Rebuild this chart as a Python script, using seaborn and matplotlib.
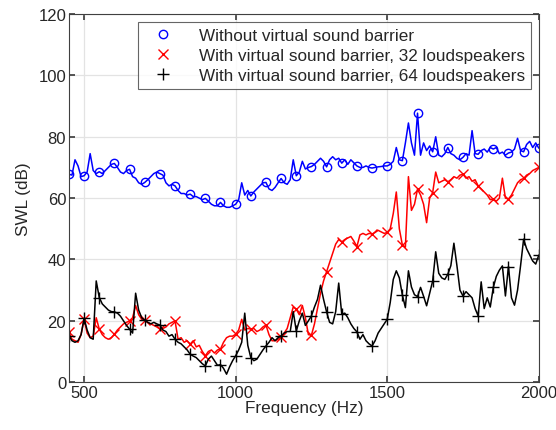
import numpy as np
import pandas as pd
import matplotlib
matplotlib.use("Agg")
import matplotlib.pyplot as plt
from matplotlib.lines import Line2D
import seaborn as sns

# frequency axis (Hz), 10 Hz steps; markers every 50 Hz
freq = np.arange(450, 2001, 10)

swl_without = [
    67.8, 67.5, 72.5, 70.5, 67.0, 67.3, 68.5, 74.5, 69.0, 68.0,
    68.6, 68.0, 69.0, 70.0, 71.0, 71.3, 70.0, 68.5, 68.0, 69.0,
    69.4, 67.0, 66.5, 65.0, 64.5, 65.1, 66.0, 67.0, 68.0, 68.5,
    68.0, 67.5, 65.0, 64.0, 64.5, 64.0, 62.5, 61.5, 61.5, 61.0,
    61.3, 60.5, 60.5, 60.0, 59.5, 59.9, 59.0, 58.0, 57.5, 57.5,
    58.6, 57.5, 57.0, 57.0, 57.5, 58.0, 59.5, 65.0, 61.0, 62.5,
    60.7, 62.0, 63.0, 64.0, 65.0, 65.1, 63.0, 62.5, 63.5, 65.0,
    66.4, 65.0, 64.5, 66.0, 72.5, 67.3, 68.5, 72.0, 69.5, 70.0,
    70.3, 71.0, 72.0, 73.0, 72.0, 70.2, 72.5, 73.5, 72.5, 73.0,
    71.4, 72.5, 71.0, 72.5, 71.5, 70.5, 70.0, 70.0, 70.5, 70.0,
    69.8, 70.0, 70.2, 70.3, 70.5, 70.5, 71.0, 72.0, 76.5, 72.5,
    72.2, 78.0, 84.5, 78.0, 74.0, 87.7, 74.0, 78.0, 75.5, 77.0,
    75.1, 80.0, 74.0, 73.5, 74.5, 76.5, 74.5, 74.0, 73.0, 72.5,
    73.3, 74.5, 74.0, 82.0, 74.5, 74.3, 75.5, 76.0, 75.0, 76.5,
    76.0, 76.5, 74.5, 75.0, 74.0, 74.7, 75.0, 76.0, 79.5, 75.5,
    75.1, 77.5, 78.5, 76.5, 78.0, 76.3,
]

swl_32 = [
    16.2, 14.0, 13.5, 13.0, 15.5, 20.5, 16.0, 14.5, 15.0, 21.0,
    17.3, 15.5, 14.5, 14.0, 14.5, 15.6, 17.0, 18.0, 19.0, 19.5,
    20.0, 21.0, 25.0, 22.0, 20.5, 20.2, 19.5, 19.0, 18.5, 18.0,
    17.3, 17.5, 18.0, 19.0, 19.5, 20.0, 14.0, 14.5, 13.0, 13.5,
    12.4, 13.5, 11.5, 12.0, 10.0, 8.6, 10.0, 10.5, 9.5, 10.5,
    10.8, 13.0, 14.5, 15.0, 15.0, 15.6, 17.0, 20.5, 17.0, 17.5,
    17.3, 17.5, 16.5, 17.0, 18.0, 18.6, 15.5, 13.5, 13.5, 14.0,
    14.6, 16.0, 17.5, 21.0, 24.5, 23.8, 22.0, 25.0, 21.0, 15.5,
    15.3, 19.0, 24.0, 29.0, 33.0, 36.0, 39.0, 42.0, 45.0, 46.5,
    45.7, 46.5, 47.0, 47.5, 46.0, 44.2, 48.0, 48.5, 48.0, 48.5,
    48.3, 48.8, 49.5, 49.0, 48.5, 48.8, 50.0, 55.0, 62.0, 50.0,
    44.7, 44.0, 67.0, 56.0, 58.0, 62.9, 61.0, 58.0, 52.0, 60.0,
    61.8, 68.5, 65.0, 65.5, 66.0, 65.3, 66.0, 67.0, 66.5, 67.5,
    67.8, 66.5, 67.0, 65.5, 66.0, 64.0, 63.0, 62.0, 61.0, 59.5,
    59.7, 59.0, 60.0, 66.5, 60.0, 59.7, 61.0, 63.0, 65.0, 66.0,
    66.4, 67.5, 68.0, 69.0, 69.5, 70.0,
]

swl_64 = [
    15.1, 13.5, 13.0, 13.5, 15.5, 20.8, 17.0, 14.5, 14.0, 33.0,
    27.6, 25.5, 24.5, 23.5, 23.0, 22.9, 22.5, 21.5, 20.0, 18.5,
    17.3, 16.0, 29.0, 23.5, 21.0, 20.2, 19.5, 19.0, 19.5, 19.0,
    18.6, 17.0, 16.5, 15.0, 15.5, 14.0, 13.0, 12.5, 11.5, 10.5,
    9.1, 8.5, 8.0, 7.0, 6.0, 5.3, 7.5, 8.5, 7.0, 5.5,
    5.7, 4.5, 2.6, 5.0, 7.0, 8.6, 10.5, 13.0, 22.5, 12.0,
    8.0, 7.0, 7.5, 9.0, 10.5, 11.8, 13.0, 14.5, 13.5, 14.5,
    15.1, 16.0, 16.5, 16.5, 23.0, 16.7, 20.0, 22.5, 18.5, 20.0,
    21.6, 24.5, 27.0, 31.6, 27.0, 22.9, 19.5, 19.0, 23.0, 32.3,
    22.2, 22.5, 21.0, 19.0, 17.5, 16.4, 14.0, 15.5, 13.5, 12.5,
    11.8, 13.5, 16.0, 17.5, 19.0, 20.5, 26.0, 33.5, 36.3, 34.0,
    28.4, 24.3, 36.3, 31.0, 28.5, 27.9, 30.9, 28.0, 24.9, 29.0,
    33.0, 42.5, 35.5, 34.0, 33.5, 35.2, 38.0, 45.3, 38.0, 30.0,
    28.1, 29.5, 28.5, 27.5, 24.0, 21.6, 32.7, 24.0, 27.5, 24.5,
    30.9, 34.5, 36.5, 37.9, 28.1, 37.7, 27.5, 25.1, 30.0, 38.0,
    46.6, 43.5, 41.5, 39.5, 38.5, 41.4,
]

labels = [
    "Without virtual sound barrier",
    "With virtual sound barrier, 32 loudspeakers",
    "With virtual sound barrier, 64 loudspeakers",
]

sns.set_theme(style="ticks")
plt.rcParams["font.family"] = ["Liberation Sans", "DejaVu Sans"]

fig = plt.figure(figsize=(5.56, 4.31), dpi=100)
ax = fig.add_axes([0.124, 0.111, 0.845, 0.854])

series = [
    (swl_without, "#0000ff", "o", 6, "none"),
    (swl_32, "#ff0000", "x", 7, "#ff0000"),
    (swl_64, "#000000", "+", 8, "#000000"),
]

handles = []
for vals, col, mk, ms, mfc in series:
    df = pd.DataFrame({"freq": freq, "swl": vals})
    sns.lineplot(data=df, x="freq", y="swl", ax=ax, color=col, linewidth=1.1,
                 marker=mk, markersize=ms, markevery=5, markerfacecolor=mfc,
                 markeredgecolor=col, markeredgewidth=1.0)
    handles.append(Line2D([], [], linestyle="none", marker=mk, markersize=ms,
                          markerfacecolor=mfc, markeredgecolor=col,
                          markeredgewidth=1.0))

ax.set_xlim(450, 2000)
ax.set_ylim(0, 120)
ax.set_xticks([500, 1000, 1500, 2000])
ax.set_yticks(np.arange(0, 121, 20))
ax.grid(True, color="#e3e3e3", linewidth=0.9)
ax.set_axisbelow(True)
ax.tick_params(direction="in", top=True, right=True, length=4,
               labelsize=12, color="#404040", pad=2)
for sp in ax.spines.values():
    sp.set_color("#404040")
    sp.set_linewidth(0.8)

ax.set_xlabel("Frequency (Hz)", fontsize=12.3, labelpad=0)
ax.set_ylabel("SWL (dB)", fontsize=12.3, labelpad=5)

leg = ax.legend(handles, labels, loc="upper right", fontsize=12.3,
                frameon=True, fancybox=False, borderaxespad=0.45,
                handletextpad=1.0, borderpad=0.35, labelspacing=0.3,
                handlelength=2.2)
leg.get_frame().set_edgecolor("#404040")
leg.get_frame().set_linewidth(0.8)

fig.savefig("out.png", dpi=100)
